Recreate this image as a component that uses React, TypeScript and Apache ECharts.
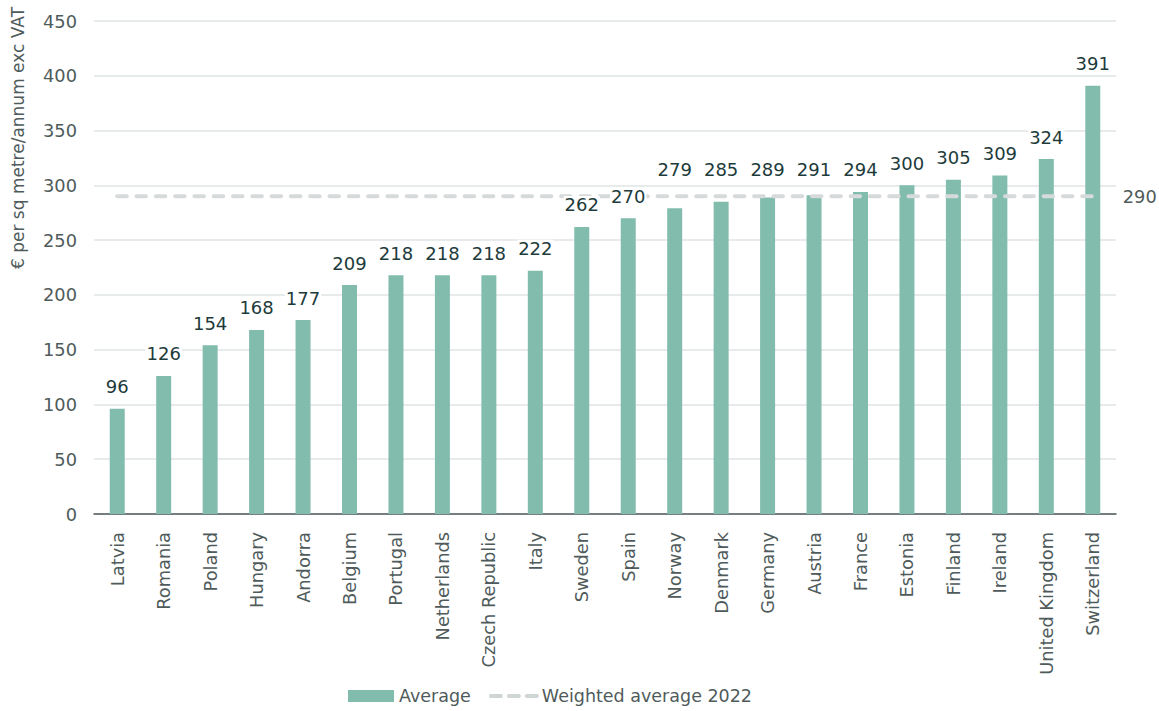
import React, { useEffect, useRef } from "react";
import * as echarts from "echarts";

const categories = ["Latvia", "Romania", "Poland", "Hungary", "Andorra", "Belgium", "Portugal", "Netherlands", "Czech Republic", "Italy", "Sweden", "Spain", "Norway", "Denmark", "Germany", "Austria", "France", "Estonia", "Finland", "Ireland", "United Kingdom", "Switzerland"];
const averageValues = [96, 126, 154, 168, 177, 209, 218, 218, 218, 222, 262, 270, 279, 285, 289, 291, 294, 300, 305, 309, 324, 391];
const weightedAverage = 290;
const yTicks = { min: 0, max: 450, interval: 50 };
const yTitle = "€ per sq metre/annum exc VAT";

const FONT = "'DejaVu Sans', sans-serif";
const TXT = "#4f5b5b";

const GRID = { left: 94, right: 43, top: 21, bottom: 197 };
const PLOT_H = 711 - GRID.top - GRID.bottom;

export default function App() {
  const ref = useRef<HTMLDivElement>(null);
  useEffect(() => {
    document.body.style.margin = "0";
    const chart = echarts.init(ref.current!, null, { renderer: "svg" });
    const pxPerUnit = PLOT_H / (yTicks.max - yTicks.min);
    // labels of bars just under the dashed line are lifted so they clear it
    const liftTo = weightedAverage + 4;
    const labelData = averageValues.map((v) => {
      if (v >= weightedAverage - 15 && v < liftTo) {
        return { value: v, label: { distance: 13 + (liftTo - v) * pxPerUnit } };
      }
      return v;
    });
    chart.setOption({
      animation: false,
      textStyle: { fontFamily: FONT },
      grid: GRID,
      legend: {
        bottom: 1,
        left: 343,
        itemWidth: 46,
        itemHeight: 12,
        itemGap: 18,
        textStyle: { fontSize: 17.5, color: TXT, fontFamily: FONT },
        data: [
          { name: "Average", icon: "rect" },
          {
            name: "Weighted average 2022",
            itemStyle: { opacity: 0 },
            lineStyle: { width: 4, type: [10, 8], cap: "round", color: "#d0d5d5" },
          },
        ],
      },
      graphic: [
        {
          type: "text",
          x: 18,
          y: 138,
          rotation: Math.PI / 2,
          style: {
            text: yTitle,
            fontSize: 17,
            fill: TXT,
            fontFamily: FONT,
            align: "center",
            verticalAlign: "middle",
          },
        },
      ],
      xAxis: {
        type: "category",
        data: categories,
        axisLine: { lineStyle: { color: "#4f5b5b", width: 1.5 } },
        axisTick: { show: false },
        axisLabel: { rotate: 90, fontSize: 17.8, color: TXT, margin: 18, fontFamily: FONT },
      },
      yAxis: {
        type: "value",
        min: yTicks.min,
        max: yTicks.max,
        interval: yTicks.interval,
        axisLine: { show: false },
        axisTick: { show: false },
        axisLabel: { fontSize: 17.8, color: TXT, margin: 17, fontFamily: FONT },
        splitLine: { lineStyle: { color: "#e1e5e4", width: 1.5 } },
      },
      series: [
        {
          name: "Average",
          type: "bar",
          data: averageValues,
          barWidth: 15,
          itemStyle: { color: "#82bcad" },
          z: 2,
        },
        {
          name: "Weighted average 2022",
          type: "line",
          data: categories.map(() => weightedAverage),
          symbol: "none",
          lineStyle: { color: "#d6dada", width: 4, type: [9.5, 9.8], cap: "round" },
          itemStyle: { color: "#d6dada" },
          endLabel: {
            show: true,
            distance: 30,
            fontSize: 17.8,
            color: TXT,
            fontFamily: FONT,
            formatter: () => String(weightedAverage),
          },
          z: 3,
        },
        {
          name: "Average labels",
          type: "bar",
          data: labelData,
          barWidth: 15,
          barGap: "-100%",
          itemStyle: { color: "rgba(0,0,0,0)" },
          silent: true,
          z: 4,
          label: {
            show: true,
            position: "top",
            distance: 13,
            fontSize: 18,
            color: "#1d3b3b",
            fontFamily: FONT,
            backgroundColor: "#ffffff",
            padding: [0, 1],
          },
        },
      ],
    });
    return () => chart.dispose();
  }, []);
  return <div ref={ref} style={{ width: 1159, height: 711 }} />;
}
